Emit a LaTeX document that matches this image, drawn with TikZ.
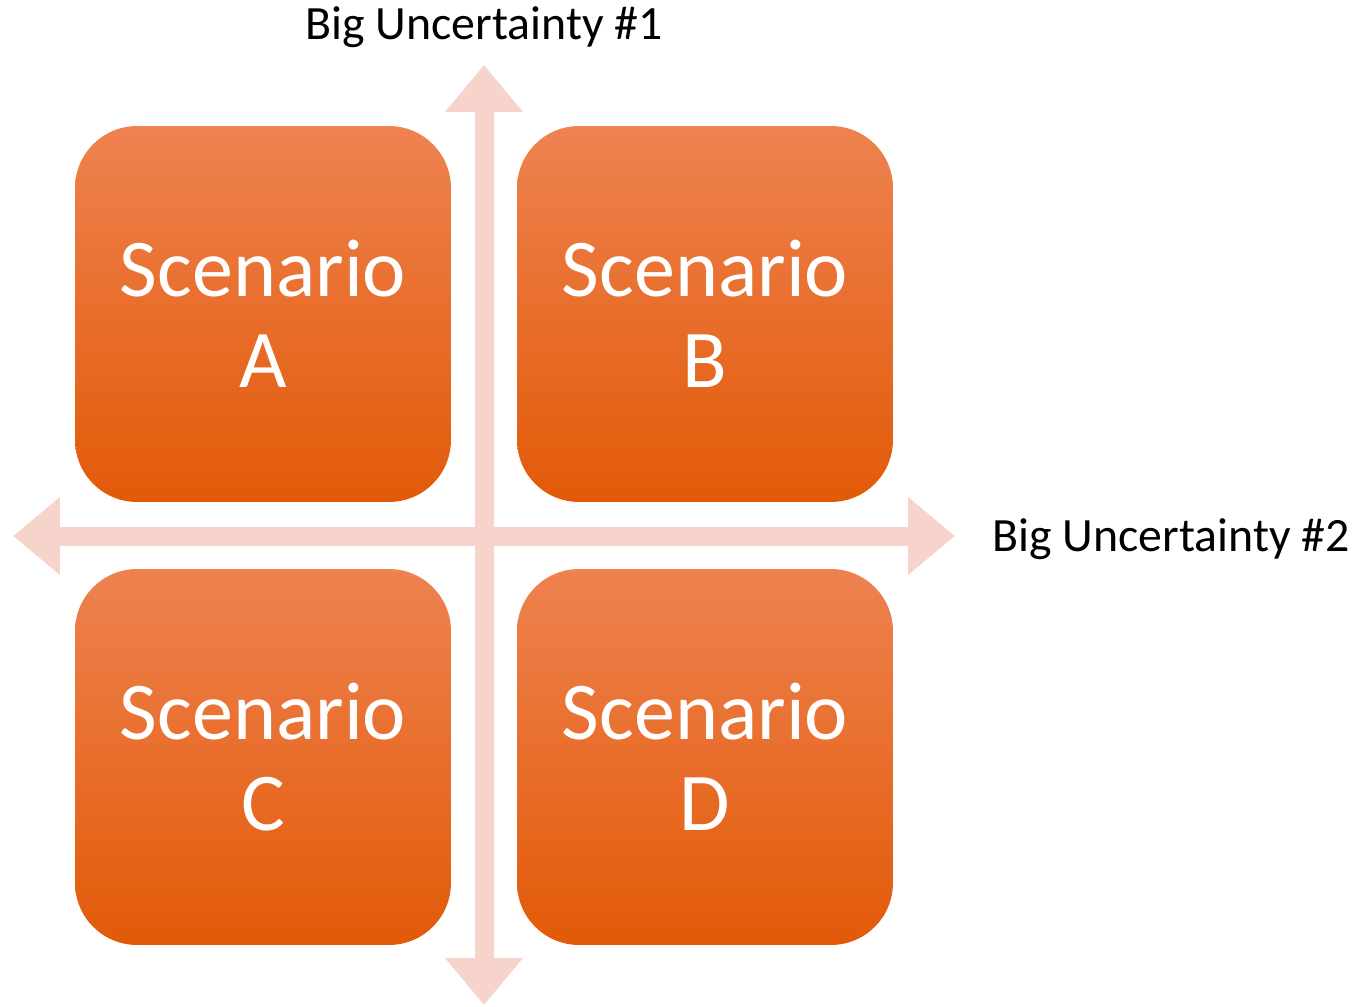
\documentclass[tikz,border=0pt]{standalone}
\usepackage{fontspec}
\setmainfont{Carlito}
\usetikzlibrary{arrows.meta, positioning}
\definecolor{axiscol}{RGB}{246,212,203}
\definecolor{boxtop}{RGB}{238,130,80}
\definecolor{boxmid}{RGB}{242,108,26}
\definecolor{boxbot}{RGB}{226,90,8}
\tikzstyle{scenario} = [rectangle, rounded corners=1.24cm, minimum width=7.52cm, minimum height=7.52cm, inner sep=0pt, text centered, align=center, text=white, top color=boxtop, middle color=boxmid, bottom color=boxbot, font=\fontsize{46.7}{51.5}\selectfont]
\tikzstyle{axis} = [axiscol, line width=0.38cm, {Triangle[width=1.5cm,length=0.94cm]}-{Triangle[width=1.5cm,length=0.94cm]}]
\tikzstyle{axislabel} = [anchor=base, inner sep=0pt, font=\fontsize{27.2}{32}\selectfont]

\begin{document}
\begin{tikzpicture}[x=0.02cm, y=-0.02cm]
  \useasboundingbox (0,0) rectangle (1366,1007);

  \coordinate (north) at (484,65);
  \coordinate (south) at (484,1005);
  \coordinate (west) at (13,536);
  \coordinate (east) at (955,536);

  \draw [axis] (south) -- (north);
  \draw [axis] (west) -- (east);

  \node (scenA) [scenario] at (263,314) {Scenario\\A};
  \node (scenB) [scenario] at (705,314) {Scenario\\B};
  \node (scenC) [scenario] at (263,757) {Scenario\\C};
  \node (scenD) [scenario] at (705,757) {Scenario\\D};

  \node (unc1) [axislabel] at (484,40) {Big Uncertainty \#1};
  \node (unc2) [axislabel] at (1171,551) {Big Uncertainty \#2};
\end{tikzpicture}
\end{document}
